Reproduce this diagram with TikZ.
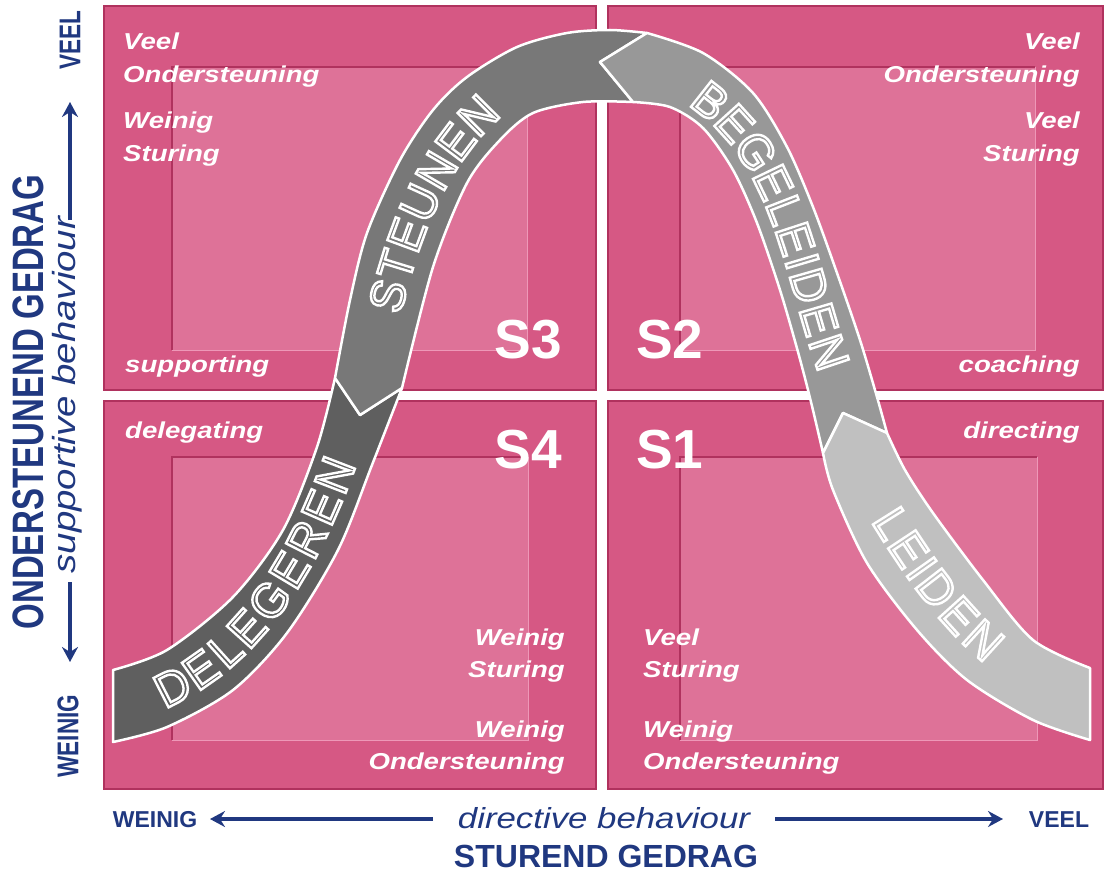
\documentclass[tikz,border=0pt]{standalone}
\usepackage{fontspec}
\setmainfont{Liberation Sans}
\usetikzlibrary{arrows.meta}

\newfontfamily\quadFont[FakeStretch=1.2]{Liberation Sans}
\newfontfamily\bandFont[FakeStretch=0.97,FakeBold=5]{Liberation Sans}
\newfontfamily\axisNarrowFont[FakeStretch=0.75]{Liberation Sans}
\newfontfamily\axisItalicFont[FakeStretch=1.2]{Liberation Sans}

\definecolor{quadOuter}{RGB}{214,88,132}
\definecolor{quadInner}{RGB}{222,114,152}
\definecolor{quadEdge}{RGB}{176,50,94}
\definecolor{quadLight}{RGB}{238,152,184}
\definecolor{axisBlue}{RGB}{32,56,128}
\definecolor{grayDelegeren}{RGB}{95,95,95}
\definecolor{graySteunen}{RGB}{120,120,120}
\definecolor{grayBegeleiden}{RGB}{152,152,152}
\definecolor{grayLeiden}{RGB}{192,192,192}

\tikzset{
	quadlabel/.style={text=white, inner sep=0pt, font=\quadFont\bfseries\itshape\fontsize{23}{27}\selectfont},
	stagelabel/.style={text=white, inner sep=0pt, font=\bfseries\fontsize{55}{60}\selectfont},
	bandseg/.style={draw=white, line width=2.5pt, line join=round},
	bandletter/.style={sloped, inner sep=0pt, text height=34.4pt, text depth=0pt, font=\bandFont\fontsize{48}{53}\selectfont},
	axislabel/.style={text=axisBlue, inner sep=0pt, font=\bfseries\fontsize{23}{27}\selectfont},
	axisvert/.style={text=axisBlue, inner sep=0pt, rotate=90, font=\axisNarrowFont\bfseries\fontsize{30}{34}\selectfont},
	axisarrow/.style={axisBlue, line width=3.2pt, -{Stealth[length=15pt,width=16pt,inset=5pt]}}
}

% grey fill of the letters, white outline from the fake bold stroke
\newcommand\drawBandLabel[3]{
	\foreach \chr/\tpos in {#3}
		\path #2 node[bandletter, pos=\tpos] {\special{pdf:bcolor [#1] [1]}\chr\special{pdf:ecolor}};
}
\newcommand\drawQuadrants{
	\foreach \ox/\oy/\px/\py/\ix/\iy/\jx/\jy in {104/6/596/390/172/67/527/350, 608/6/1103/390/680/67/1035/350, 104/401/596/789/172/457/528/740, 608/401/1103/789/680/457/1037/740}{
		\filldraw[fill=quadOuter, draw=quadEdge, line width=2pt] (\ox,\oy) rectangle (\px,\py);
		\fill[quadInner] (\ix,\iy) rectangle (\jx,\jy);
		\draw[quadEdge, line width=1.5pt] (\ix,\jy) -- (\ix,\iy) -- (\jx,\iy);
		\draw[quadLight, line width=1pt] (\jx,\iy) -- (\jx,\jy) -- (\ix,\jy);
	}
}

\begin{document}
\begin{tikzpicture}[x=1pt,y=-1pt]
	\useasboundingbox (0,0) rectangle (1107,875);
	\fill[white] (0,0) rectangle (1107,875);
	\drawQuadrants

	% quadrant texts
	\foreach \nm/\x/\y/\txt in {tlVeel/123/49/Veel, tlOnder/123/82/Ondersteuning, tlWeinig/123/128/Weinig, tlSturing/123/161/Sturing, tlStyle/125/372/supporting, blStyle/125/438/delegating, brVeel/643/645/Veel, brSturing/643/677/Sturing, brWeinig/643/737/Weinig, brOnder/643/769/Ondersteuning}
		\node[quadlabel, anchor=base west] (\nm) at (\x,\y) {\txt};
	\foreach \nm/\x/\y/\txt in {trVeel/1080/49/Veel, trOnder/1080/82/Ondersteuning, trVeelB/1080/128/Veel, trSturing/1080/161/Sturing, trStyle/1080/372/coaching, brStyle/1080/438/directing, blWeinig/565/645/Weinig, blSturing/565/677/Sturing, blWeinigB/565/737/Weinig, blOnder/565/769/Ondersteuning}
		\node[quadlabel, anchor=base east] (\nm) at (\x,\y) {\txt};
	\node[stagelabel, anchor=base east] (sThree) at (562,358) {S3};
	\node[stagelabel, anchor=base west] (sTwo) at (636,358) {S2};
	\node[stagelabel, anchor=base east] (sFour) at (562,468) {S4};
	\node[stagelabel, anchor=base west] (sOne) at (636,468) {S1};

	% the curved band
	\filldraw[fill=grayDelegeren, bandseg] plot[smooth] coordinates {(335,378) (317,447) (283,530) (233,597) (167,650) (113,670)}
		-- (113,742) -- plot[smooth] coordinates {(113,742) (167,727) (233,690) (287,633) (338,550) (372,465) (402,388)}
		-- (360,415) -- cycle;
	\filldraw[fill=graySteunen, bandseg] (335,378) -- (360,415) -- (402,388)
		-- plot[smooth] coordinates {(402,388) (433,267) (467,183) (500,140) (533,113) (583,102) (633,102)}
		-- (600,62) -- (647,33)
		-- plot[smooth] coordinates {(647,33) (610,30) (567,33) (517,47) (467,77) (433,110) (400,160) (367,233) (350,300) (335,378)} -- cycle;
	\filldraw[fill=grayBegeleiden, bandseg] (647,33) -- (600,62) -- (633,102)
		-- plot[smooth] coordinates {(633,102) (670,107) (703,128) (733,170) (757,223) (780,290) (798,352) (811,402) (823,453)}
		-- (843,413) -- (887,433)
		-- plot[smooth] coordinates {(887,433) (877,397) (860,340) (837,273) (813,207) (787,147) (753,93) (703,53) (647,33)} -- cycle;
	\filldraw[fill=grayLeiden, bandseg] (887,433) -- (843,413) -- (823,453)
		-- plot[smooth] coordinates {(823,453) (833,490) (867,563) (917,630) (967,680) (1033,720) (1090,740)}
		-- (1090,668) -- plot[smooth] coordinates {(1090,668) (1033,640) (983,580) (933,513) (905,470) (887,433)} -- cycle;

	% band texts, letter by letter
	\drawBandLabel{0.373}{(160,692) .. controls (252.7,651.3) and (304.8,555.2) .. (339,462)}
		{D/0.0453, E/0.1562, L/0.2634, E/0.3655, G/0.4861, E/0.6068, R/0.7228, E/0.8388, N/0.9547}
	\drawBandLabel{0.47}{(384.2,308.3) .. controls (402.3,234.5) and (430.2,157.1) .. (488,105.4)}
		{S/0.0569, T/0.1946, E/0.3324, U/0.4821, N/0.6377, E/0.7875, N/0.9402}
	\drawBandLabel{0.596}{(700.8,93.2) .. controls (789.6,154.2) and (800,269.7) .. (834,364.5)}
		{B/0.0388, E/0.1457, G/0.2627, E/0.3792, L/0.4776, E/0.5762, I/0.6523, D/0.7330, E/0.8448, N/0.9568}
	\drawBandLabel{0.753}{(886.4,513.5) .. controls (917,562.9) and (950.2,612.5) .. (995.6,649.9)}
		{L/0.0643, E/0.2387, I/0.3734, D/0.5160, E/0.7140, N/0.9121}

	% vertical axis
	\node[axisvert, font=\axisNarrowFont\bfseries\fontsize{44}{48}\selectfont] (supportTitle) at (28,402) {ONDERSTEUNEND GEDRAG};
	\node[axisvert, font=\axisItalicFont\itshape\fontsize{32}{36}\selectfont] (supportBehav) at (67,395) {supportive behaviour};
	\node[axisvert] (supportVeel) at (70,40) {VEEL};
	\node[axisvert] (supportWeinig) at (68,736) {WEINIG};
	\coordinate (supportUpTail) at (70,220);
	\coordinate (supportUpTip) at (70,102);
	\coordinate (supportDownTail) at (70,582);
	\coordinate (supportDownTip) at (70,662);
	\draw[axisarrow] (supportUpTail) -- (supportUpTip);
	\draw[axisarrow] (supportDownTail) -- (supportDownTip);

	% horizontal axis
	\node[axislabel] (directWeinig) at (155,820) {WEINIG};
	\node[axislabel] (directVeel) at (1059,820) {VEEL};
	\node[axislabel, anchor=base, font=\axisItalicFont\itshape\fontsize{29}{33}\selectfont] (directBehav) at (604,828) {directive behaviour};
	\node[axislabel, anchor=base, font=\bfseries\fontsize{32}{36}\selectfont] (directTitle) at (606,867) {STUREND GEDRAG};
	\coordinate (directLeftTail) at (433,819);
	\coordinate (directLeftTip) at (210,819);
	\coordinate (directRightTail) at (775,819);
	\coordinate (directRightTip) at (1003,819);
	\draw[axisarrow] (directLeftTail) -- (directLeftTip);
	\draw[axisarrow] (directRightTail) -- (directRightTip);
\end{tikzpicture}
\end{document}
